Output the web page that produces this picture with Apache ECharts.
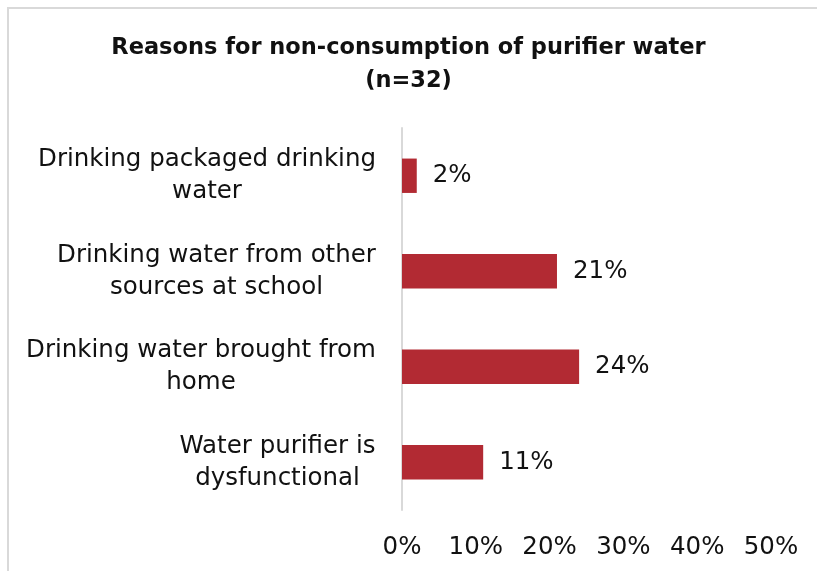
<!DOCTYPE html>
<html>
<head>
<meta charset="utf-8">
<style>
  html, body { margin: 0; padding: 0; background: #fff; }
  #chart { width: 817px; height: 571px; position: relative; }
  #frame { position: absolute; left: 7px; top: 7px; width: 820px; height: 580px; border: 2px solid #d9d9d9; pointer-events: none; z-index: 10; }
</style>
<script src="https://cdn.jsdelivr.net/npm/echarts@6/dist/echarts.min.js"></script>
</head>
<body>
<div id="chart"></div>
<div id="frame"></div>
<script>
// Reasons given by students (n=32) for not drinking purifier water
const categories = [
  'Drinking packaged drinking\nwater',
  'Drinking water from other\nsources at school',
  'Drinking water brought from\nhome',
  'Water purifier is\ndysfunctional'
];
const shares = [2, 21, 24, 11];
const xTicks = [0, 10, 20, 30, 40, 50];

const FONT = '"DejaVu Sans", sans-serif';
const LABEL_SIZE = 24.5;

// Measure each category's widest line so lines can be centred within the label block
const ctx = document.createElement('canvas').getContext('2d');
ctx.font = LABEL_SIZE + 'px ' + FONT;
const rich = {};
categories.forEach((c, i) => {
  const w = Math.max(...c.split('\n').map(s => ctx.measureText(s).width));
  rich['c' + i] = { width: Math.ceil(w), align: 'center', fontSize: LABEL_SIZE, fontFamily: FONT, color: '#111', lineHeight: 32 };
});

const chart = echarts.init(document.getElementById('chart'), null, { renderer: 'canvas' });
chart.setOption({
  animation: false,
  title: {
    text: 'Reasons for non-consumption of purifier water\n(n=32)',
    left: 'center',
    top: 27,
    textStyle: { fontFamily: FONT, fontSize: 22.5, fontWeight: 'bold', color: '#111', lineHeight: 33 }
  },
  grid: { left: 402, right: 46, top: 128, bottom: 61, containLabel: false },
  xAxis: {
    type: 'value',
    min: xTicks[0],
    max: xTicks[xTicks.length - 1],
    interval: 10,
    axisLine: { show: false },
    axisTick: { show: false },
    splitLine: { show: false },
    axisLabel: {
      margin: 25,
      fontFamily: FONT,
      fontSize: LABEL_SIZE,
      color: '#111',
      formatter: v => v + '%'
    }
  },
  yAxis: {
    type: 'category',
    data: categories,
    inverse: true,
    axisLine: { show: true, lineStyle: { color: '#d9d9d9', width: 2 } },
    axisTick: { show: false },
    axisLabel: {
      margin: 26,
      formatter: (v, i) => v.split('\n').map(s => '{c' + i + '|' + s + '}').join('\n'),
      rich: rich
    }
  },
  series: [{
    type: 'bar',
    data: shares,
    barWidth: '36%',
    itemStyle: { color: '#b22a33' },
    label: {
      show: true,
      position: 'right',
      distance: 16,
      fontFamily: FONT,
      fontSize: LABEL_SIZE,
      color: '#111',
      formatter: p => p.value + '%'
    }
  }]
});
</script>
</body>
</html>
